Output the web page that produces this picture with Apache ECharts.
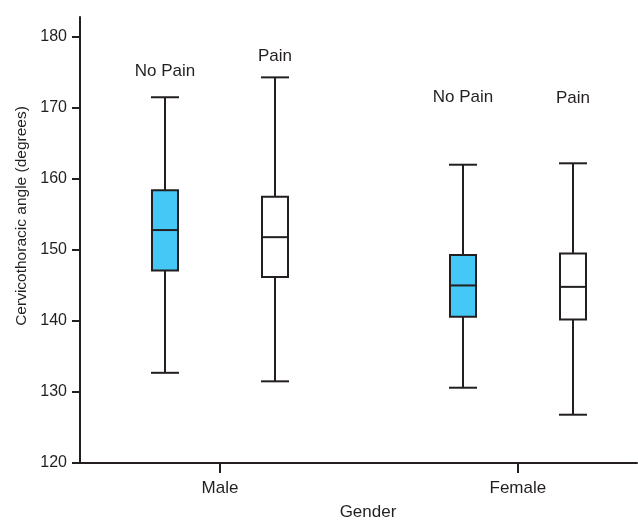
<!DOCTYPE html>
<html>
<head>
    <meta charset="utf-8">
    <title>Cervicothoracic angle</title>
    <script src="https://cdn.jsdelivr.net/npm/echarts@6/dist/echarts.min.js"></script>
    <style>
        html, body { margin: 0; padding: 0; background: #fff; }
        #main { width: 638px; height: 520px; }
    </style>
</head>
<body>
    <div id="main"></div>
    <script>
        // groups on the x axis (Male = 1, Female = 2)
        var categories = ['Male', 'Female'];
        var yTicks = [120, 130, 140, 150, 160, 170, 180];

        // [min, Q1, median, Q3, max] per group
        var noPain = [
            [132.7, 147.1, 152.8, 158.4, 171.5],
            [130.6, 140.6, 145.0, 149.3, 162.0]
        ];
        var pain = [
            [131.5, 146.2, 151.8, 157.5, 174.3],
            [126.8, 140.2, 144.8, 149.5, 162.2]
        ];
        // where the "No Pain" / "Pain" captions sit (degrees)
        var noPainLabelY = [175.1, 171.5];
        var painLabelY = [177.2, 171.3];

        var ink = '#231f20';
        var font = '"Liberation Sans", Arial, Helvetica, sans-serif';

        function buildData(stats, labelY) {
            return stats.map(function (s, i) {
                return [i + 1].concat(s, [labelY[i]]);
            });
        }

        function makeRenderer(offset, fill, caption) {
            return function (params, api) {
                var x = api.value(0) + offset;
                var pLow = api.coord([x, api.value(1)]);
                var pQ1 = api.coord([x, api.value(2)]);
                var pMed = api.coord([x, api.value(3)]);
                var pQ3 = api.coord([x, api.value(4)]);
                var pHigh = api.coord([x, api.value(5)]);
                var pLab = api.coord([x, api.value(6)]);
                var cx = Math.round(pLow[0]);
                var half = 13;
                var lineStyle = { stroke: ink, lineWidth: 2, fill: null };
                return {
                    type: 'group',
                    children: [
                        { type: 'line', shape: { x1: cx, y1: pLow[1], x2: cx, y2: pQ1[1] }, style: lineStyle },
                        { type: 'line', shape: { x1: cx, y1: pQ3[1], x2: cx, y2: pHigh[1] }, style: lineStyle },
                        { type: 'line', shape: { x1: cx - half - 1, y1: pLow[1], x2: cx + half + 1, y2: pLow[1] }, style: lineStyle },
                        { type: 'line', shape: { x1: cx - half - 1, y1: pHigh[1], x2: cx + half + 1, y2: pHigh[1] }, style: lineStyle },
                        {
                            type: 'rect',
                            shape: { x: cx - half, y: pQ3[1], width: half * 2, height: pQ1[1] - pQ3[1] },
                            style: { fill: fill, stroke: ink, lineWidth: 2 }
                        },
                        { type: 'line', shape: { x1: cx - half, y1: pMed[1], x2: cx + half, y2: pMed[1] }, style: lineStyle },
                        {
                            type: 'text',
                            x: cx,
                            y: pLab[1],
                            style: {
                                text: caption,
                                fill: ink,
                                font: '17px ' + font,
                                align: 'center',
                                verticalAlign: 'middle'
                            }
                        }
                    ]
                };
            };
        }

        var chart = echarts.init(document.getElementById('main'));

        var option = {
            animation: false,
            textStyle: { fontFamily: font, color: ink },
            grid: {
                left: 80,
                right: 1,
                top: 17,
                bottom: 57,
                containLabel: false,
                outerBoundsMode: 'none'
            },
            xAxis: {
                type: 'value',
                min: 0.53,
                max: 2.4,
                name: 'Gender',
                nameLocation: 'middle',
                nameGap: 41,
                nameTextStyle: { fontSize: 17, color: ink, padding: [0, 0, 0, 19] },
                axisLine: { show: true, lineStyle: { color: ink, width: 2 } },
                axisTick: { show: true, length: 10, lineStyle: { color: ink, width: 2 }, customValues: [1, 2] },
                axisLabel: {
                    customValues: [1, 2],
                    margin: 17,
                    fontSize: 17,
                    color: ink,
                    formatter: function (v) { return categories[Math.round(v) - 1]; }
                },
                splitLine: { show: false }
            },
            yAxis: {
                type: 'value',
                min: 120,
                max: 182.8,
                interval: 10,
                name: 'Cervicothoracic angle (degrees)',
                nameLocation: 'middle',
                nameGap: 50,
                nameTextStyle: { fontSize: 15.5, color: ink, padding: [0, 0, 0, 48] },
                axisLine: { show: true, lineStyle: { color: ink, width: 2 } },
                axisTick: { show: true, length: 8, lineStyle: { color: ink, width: 2 }, customValues: yTicks },
                axisLabel: { customValues: yTicks, margin: 13, fontSize: 16, color: ink },
                splitLine: { show: false }
            },
            series: [
                {
                    name: 'No Pain',
                    type: 'custom',
                    renderItem: makeRenderer(-0.1846, '#45c8f5', 'No Pain'),
                    encode: { x: 0, y: [1, 2, 3, 4, 5, 6] },
                    data: buildData(noPain, noPainLabelY)
                },
                {
                    name: 'Pain',
                    type: 'custom',
                    renderItem: makeRenderer(0.1846, '#ffffff', 'Pain'),
                    encode: { x: 0, y: [1, 2, 3, 4, 5, 6] },
                    data: buildData(pain, painLabelY)
                }
            ]
        };

        chart.setOption(option);
    </script>
</body>
</html>
